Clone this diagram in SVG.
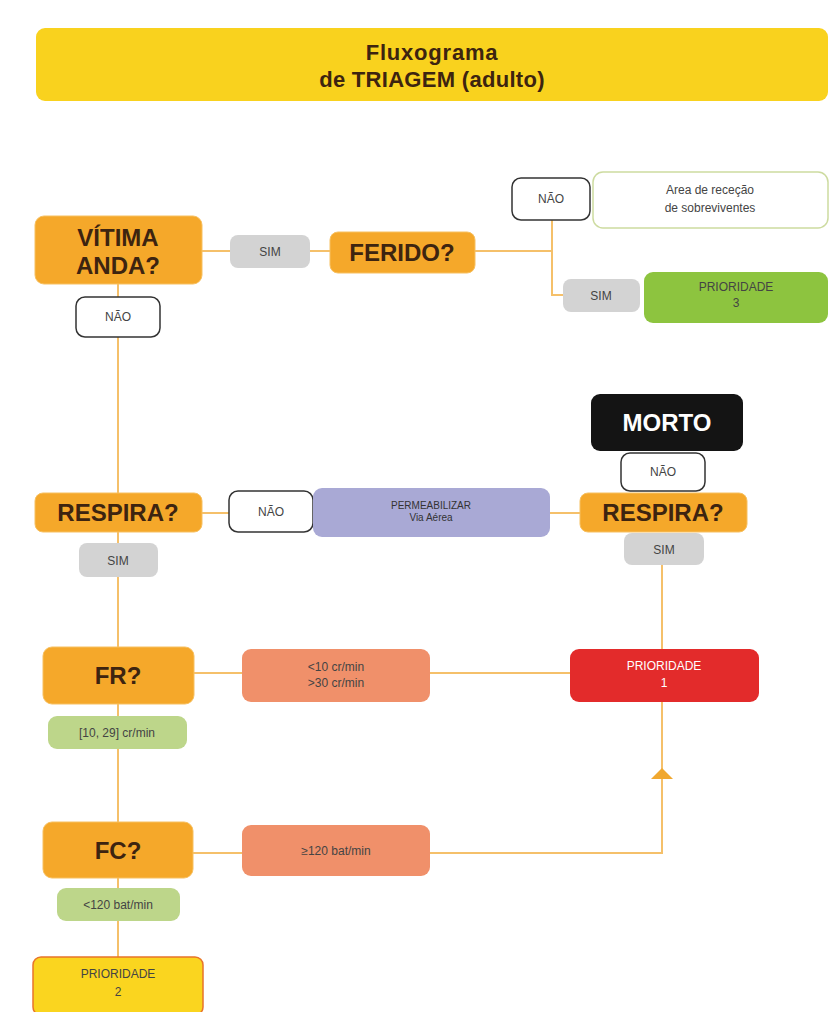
<svg xmlns="http://www.w3.org/2000/svg" width="830" height="1012" viewBox="0 0 830 1012">
<defs>
<style>
.big{font-family:"Liberation Sans",Arial,sans-serif;font-weight:bold;font-size:24px;fill:#3d2410;text-anchor:middle}
.sm{font-family:"Liberation Sans",Arial,sans-serif;font-size:12px;fill:#444;text-anchor:middle}
.q{fill:#F5A82A;stroke:#F7C060;stroke-width:1}
.gray{fill:#D3D3D3}
.no{fill:#fff;stroke:#333;stroke-width:1.5}
.lgreen{fill:#BDD68A}
.salmon{fill:#F0906A}
.conn{fill:none;stroke:#F5C06A;stroke-width:2}
</style>
<marker id="arr" viewBox="0 0 22 10" refX="11" refY="0" markerWidth="22" markerHeight="10" markerUnits="userSpaceOnUse" orient="auto-start-reverse">
<path d="M0,10 L11,0 L22,10 Z" fill="#F0A830"/>
</marker>
</defs>
<rect width="830" height="1012" fill="#fff"/>

<g id="connectors">
<path class="conn" d="M118,284 V960"/>
<path class="conn" d="M202,251 H330"/>
<path class="conn" d="M475,251 H552"/>
<path class="conn" d="M552,220 V295 H563"/>
<path class="conn" d="M202,513 H580"/>
<path class="conn" d="M662,565 V649"/>
<path class="conn" d="M194,673 H570"/>
<path class="conn" d="M662,702 V853 H430"/>
<path class="conn" d="M193,853 H242"/>
<polygon points="651,779 662,768 673,779" fill="#F0A830"/>
</g>

<g id="title">
<rect x="36" y="28" width="792" height="73" rx="9" fill="#F9D21E"/>
<text x="432" y="60" style="font-family:'Liberation Sans',Arial,sans-serif;font-weight:bold;font-size:22px;fill:#3d2410;text-anchor:middle;letter-spacing:0.8px">Fluxograma</text>
<text x="432" y="87" style="font-family:'Liberation Sans',Arial,sans-serif;font-weight:bold;font-size:22px;fill:#3d2410;text-anchor:middle;letter-spacing:0.3px">de TRIAGEM (adulto)</text>
</g>

<g id="vitima">
<rect class="q" x="35" y="216" width="167" height="68" rx="9"/>
<text class="big" x="118" y="246">VÍTIMA</text>
<text class="big" x="118" y="274">ANDA?</text>
</g>
<g id="sim1">
<rect class="gray" x="230" y="235" width="80" height="33" rx="8"/>
<text class="sm" x="270" y="256">SIM</text>
</g>
<g id="ferido">
<rect class="q" x="330" y="232" width="145" height="41" rx="8"/>
<text class="big" x="402" y="261">FERIDO?</text>
</g>
<g id="nao1">
<rect class="no" x="76" y="297" width="84" height="40" rx="9"/>
<text class="sm" x="118" y="321">NÃO</text>
</g>
<g id="nao2">
<rect class="no" x="512" y="178" width="78" height="42" rx="9"/>
<text class="sm" x="551" y="203">NÃO</text>
</g>
<g id="area">
<rect x="593" y="172" width="235" height="56" rx="10" fill="#fff" stroke="#CDDBA0" stroke-width="1.5"/>
<text class="sm" x="710" y="194">Area de receção</text>
<text class="sm" x="710" y="212">de sobreviventes</text>
</g>
<g id="sim2">
<rect class="gray" x="563" y="279" width="77" height="33" rx="8"/>
<text class="sm" x="601" y="300">SIM</text>
</g>
<g id="prio3">
<rect x="644" y="272" width="184" height="51" rx="9" fill="#8DC43F"/>
<text class="sm" x="736" y="291">PRIORIDADE</text>
<text class="sm" x="736" y="307">3</text>
</g>

<g id="morto">
<rect x="591" y="394" width="152" height="57" rx="9" fill="#141414"/>
<text class="big" x="667" y="431" style="fill:#fff">MORTO</text>
</g>
<g id="nao4">
<rect class="no" x="621" y="453" width="84" height="38" rx="9"/>
<text class="sm" x="663" y="476">NÃO</text>
</g>
<g id="respira1">
<rect class="q" x="35" y="493" width="167" height="39" rx="8"/>
<text class="big" x="118" y="521">RESPIRA?</text>
</g>
<g id="nao3">
<rect class="no" x="229" y="491" width="84" height="41" rx="9"/>
<text class="sm" x="271" y="516">NÃO</text>
</g>
<g id="permeabilizar">
<rect x="313" y="488" width="237" height="49" rx="9" fill="#A9A9D5"/>
<text class="sm" x="431" y="509" style="font-size:10px;fill:#333">PERMEABILIZAR</text>
<text class="sm" x="431" y="521" style="font-size:10px;fill:#333">Via Aérea</text>
</g>
<g id="respira2">
<rect class="q" x="580" y="493" width="167" height="39" rx="8"/>
<text class="big" x="663" y="521">RESPIRA?</text>
</g>
<g id="sim3">
<rect class="gray" x="79" y="543" width="79" height="34" rx="8"/>
<text class="sm" x="118" y="565">SIM</text>
</g>
<g id="sim4">
<rect class="gray" x="624" y="533" width="80" height="32" rx="8"/>
<text class="sm" x="664" y="554">SIM</text>
</g>

<g id="fr">
<rect class="q" x="43" y="647" width="151" height="57" rx="9"/>
<text class="big" x="118" y="684">FR?</text>
</g>
<g id="fr_abn">
<rect class="salmon" x="242" y="649" width="188" height="53" rx="9"/>
<text class="sm" x="336" y="671">&lt;10 cr/min</text>
<text class="sm" x="336" y="687">&gt;30 cr/min</text>
</g>
<g id="prio1">
<rect x="570" y="649" width="189" height="53" rx="9" fill="#E32B2B"/>
<text class="sm" x="664" y="670" style="fill:#fff">PRIORIDADE</text>
<text class="sm" x="664" y="687" style="fill:#fff">1</text>
</g>
<g id="fr_norm">
<rect class="lgreen" x="48" y="716" width="139" height="33" rx="9"/>
<text class="sm" x="117" y="737">[10, 29] cr/min</text>
</g>

<g id="fc">
<rect class="q" x="43" y="822" width="150" height="56" rx="9"/>
<text class="big" x="118" y="859">FC?</text>
</g>
<g id="fc_abn">
<rect class="salmon" x="242" y="825" width="188" height="51" rx="9"/>
<text class="sm" x="336" y="855">≥120 bat/min</text>
</g>
<g id="fc_norm">
<rect class="lgreen" x="57" y="888" width="123" height="33" rx="9"/>
<text class="sm" x="118" y="909">&lt;120 bat/min</text>
</g>
<g id="prio2">
<rect x="33" y="957" width="170" height="58" rx="8" fill="#FAD51F" stroke="#E8742A" stroke-width="1.5"/>
<text class="sm" x="118" y="978">PRIORIDADE</text>
<text class="sm" x="118" y="996">2</text>
</g>
</svg>
